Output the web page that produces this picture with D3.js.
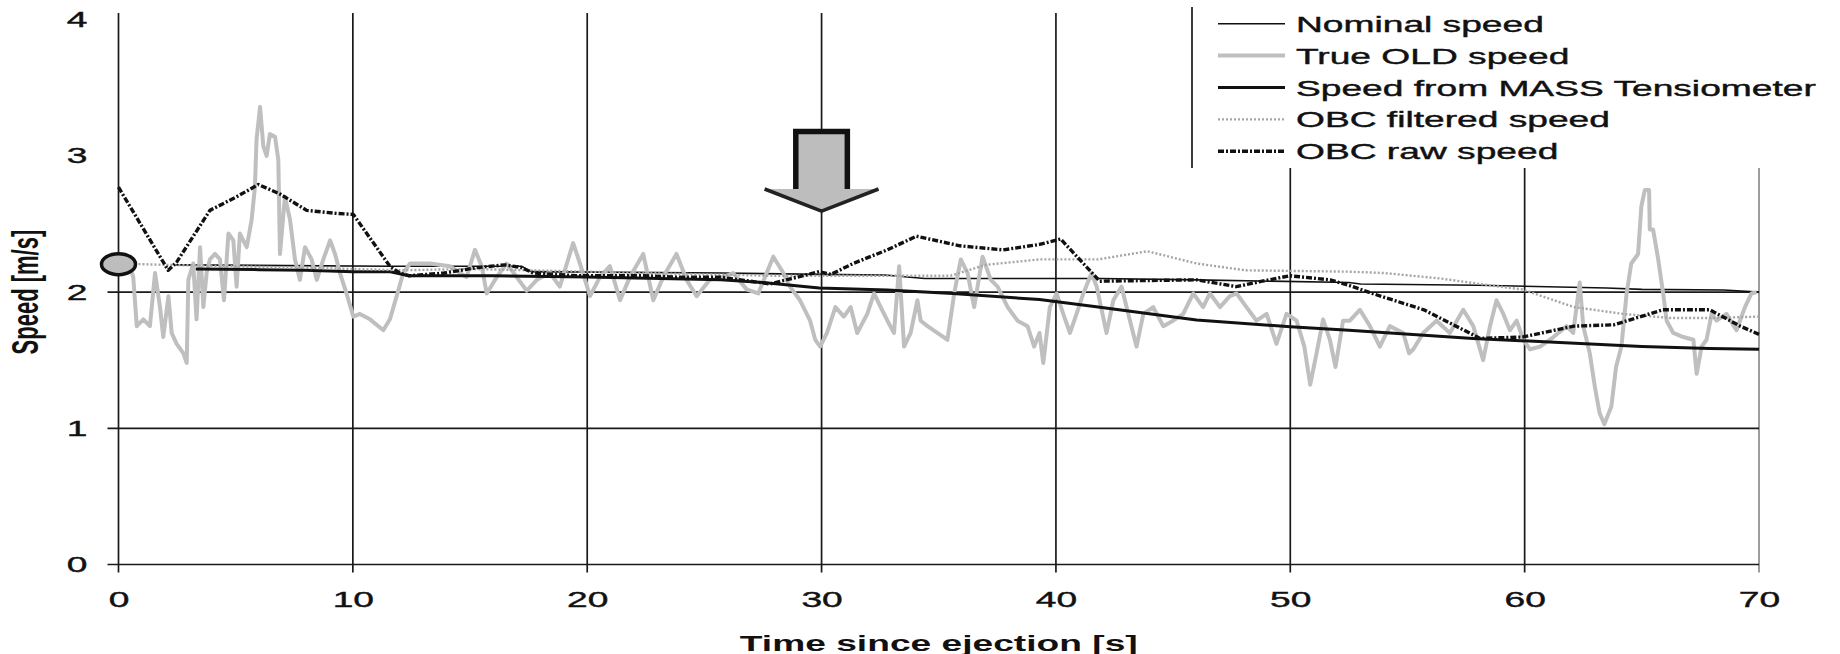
<!DOCTYPE html>
<html><head><meta charset="utf-8">
<script src="https://cdn.jsdelivr.net/npm/d3@7"></script>
<style>html,body{margin:0;padding:0;background:#fff;} svg{display:block;}</style>
</head><body>
<svg id="chart" width="1840" height="654"></svg>
<script>
// ---------- data ----------
const xTickValues = [0, 10, 20, 30, 40, 50, 60, 70];
const yTickValues = [0, 1, 2, 3, 4];
const yGridValues = [0, 1, 2];
const seriesNames = ["Nominal speed", "True OLD speed", "Speed from MASS Tensiometer", "OBC filtered speed", "OBC raw speed"];
const xTitle = "Time since ejection [s]";
const yTitle = "Speed [m/s]";

const nominalTime  = [2.4, 11.6, 17.2, 17.6, 25.7, 29.9, 32.7, 34.4, 39.3, 41.9, 46, 52.5, 53, 58, 63.5, 65, 68.5, 70];
const nominalSpeed = [2.20, 2.19, 2.19, 2.15, 2.14, 2.13, 2.125, 2.10, 2.10, 2.10, 2.09, 2.07, 2.06, 2.05, 2.03, 2.02, 2.015, 2.0];

const oldTime = [0.5,0.63,0.78,1.06,1.34,1.56,1.77,1.91,2.13,2.27,2.48,2.77,2.91,2.98,3.19,3.33,3.48,3.62,3.76,3.90,4.12,4.33,4.50,4.69,4.90,5.04,5.18,5.47,5.68,5.82,5.89,6.04,6.18,6.32,6.46,6.68,6.82,6.89,7.10,7.32,7.53,7.74,7.96,8.24,8.46,8.74,9.03,9.24,9.45,9.73,10.02,10.30,10.73,11.30,11.58,11.87,12.15,12.44,13.29,14.14,14.85,15.21,15.50,15.71,16.14,16.56,16.99,17.42,17.85,18.41,18.83,19.40,19.69,20.12,20.54,20.97,21.40,21.82,22.39,22.82,23.24,23.81,24.24,24.67,25.23,25.80,26.23,26.80,27.30,27.94,28.37,28.65,29.08,29.51,29.73,29.94,30.23,30.59,30.95,31.24,31.52,31.95,32.24,32.52,32.81,33.09,33.31,33.52,33.80,34.09,34.23,34.52,34.94,35.37,35.66,35.94,36.23,36.51,36.87,37.22,37.51,37.94,38.36,38.79,39.07,39.30,39.46,39.74,40.03,40.31,40.60,40.88,41.17,41.52,41.74,42.16,42.45,42.80,43.16,43.44,43.73,44.15,44.58,45.00,45.43,45.86,46.28,46.57,47.00,47.42,47.71,48.13,48.56,48.99,49.41,49.84,50.27,50.60,50.85,51.12,51.40,51.69,51.93,52.25,52.54,52.97,53.40,53.82,54.25,54.82,55.07,55.25,55.67,56.24,56.81,57.38,57.81,58.23,58.52,58.80,59.09,59.37,59.66,59.94,60.23,60.66,61.23,61.79,62.07,62.35,62.50,62.78,63.00,63.20,63.40,63.70,63.90,64.13,64.35,64.55,64.84,64.98,65.13,65.31,65.34,65.48,65.70,65.91,66.06,66.34,66.77,67.20,67.34,67.55,67.76,67.98,68.19,68.61,69.04,69.40,69.68,69.90];
const oldSpeed = [2.18,2.11,1.75,1.80,1.75,2.14,1.89,1.67,1.97,1.70,1.62,1.55,1.48,2.09,2.21,1.80,2.33,1.89,2.14,2.24,2.28,2.24,1.94,2.43,2.38,2.04,2.43,2.33,2.53,2.77,3.12,3.36,3.07,3.00,3.16,3.14,2.97,2.28,2.70,2.53,2.24,2.09,2.33,2.24,2.09,2.24,2.38,2.28,2.14,1.99,1.82,1.84,1.80,1.72,1.80,1.97,2.14,2.21,2.21,2.19,2.11,2.31,2.19,1.99,2.11,2.21,2.11,2.01,2.09,2.14,2.04,2.36,2.21,1.97,2.11,2.19,1.94,2.11,2.28,1.94,2.11,2.28,2.09,1.97,2.09,2.11,2.14,2.02,1.99,2.26,2.14,2.04,1.94,1.79,1.65,1.60,1.70,1.89,1.82,1.89,1.70,1.84,1.99,1.89,1.79,1.70,2.19,1.60,1.70,1.94,1.79,1.75,1.70,1.65,1.99,2.24,2.14,1.89,2.26,2.09,2.04,1.89,1.79,1.75,1.60,1.70,1.48,1.89,1.99,1.84,1.70,1.84,1.99,2.14,2.04,1.70,1.94,2.04,1.79,1.60,1.84,1.89,1.75,1.79,1.84,1.99,1.89,1.99,1.89,1.97,1.99,1.89,1.79,1.84,1.62,1.84,1.79,1.60,1.32,1.55,1.80,1.65,1.45,1.79,1.79,1.87,1.75,1.60,1.75,1.70,1.55,1.58,1.70,1.79,1.70,1.87,1.75,1.50,1.75,1.94,1.84,1.72,1.79,1.65,1.58,1.60,1.67,1.75,1.70,2.07,1.75,1.55,1.30,1.11,1.03,1.16,1.45,1.60,1.99,2.21,2.28,2.63,2.75,2.75,2.46,2.46,2.24,1.99,1.79,1.70,1.67,1.65,1.40,1.60,1.65,1.84,1.79,1.84,1.72,1.89,1.99,2.00];

const massTime  = [3.3, 6, 8, 10, 11.6, 12.4, 16, 20, 25.7, 27.5, 29.9, 32.8, 35.6, 39.3, 41.8, 46, 50, 52.5, 57.8, 61.5, 65, 67.9, 70];
const massSpeed = [2.17, 2.165, 2.16, 2.15, 2.15, 2.12, 2.12, 2.11, 2.09, 2.07, 2.03, 2.015, 1.99, 1.945, 1.89, 1.795, 1.745, 1.72, 1.66, 1.63, 1.60, 1.585, 1.58];

const filteredTime  = [0, 2, 5, 10, 12, 15, 20, 25, 28, 30, 32.3, 35.5, 37, 39.3, 41.8, 43.9, 46, 48.1, 52.5, 54, 56.4, 58.5, 59.9, 62.1, 64.2, 66.2, 67.9, 70];
const filteredSpeed = [2.21, 2.20, 2.19, 2.17, 2.16, 2.17, 2.15, 2.13, 2.12, 2.12, 2.12, 2.12, 2.20, 2.24, 2.24, 2.30, 2.21, 2.16, 2.15, 2.14, 2.10, 2.05, 2.02, 1.89, 1.84, 1.81, 1.81, 1.82];

const rawTime  = [0, 2.12, 2.48, 3.9, 5.04, 5.97, 6.89, 8.03, 9.16, 10.02, 11.58, 12.0, 12.4, 13.9, 15.3, 16.5, 17.2, 17.7, 19.6, 22.4, 23.8, 25.66, 27.8, 29.9, 30.4, 31.35, 32.8, 34.05, 35.9, 37.75, 39.3, 40.2, 41.87, 46.0, 47.7, 48.8, 49.98, 51.7, 52.5, 53.5, 55.7, 58.1, 59.9, 62.1, 63.8, 65.9, 67.9, 69.2, 70];
const rawSpeed = [2.77, 2.16, 2.22, 2.60, 2.70, 2.79, 2.72, 2.60, 2.58, 2.57, 2.19, 2.14, 2.12, 2.14, 2.18, 2.20, 2.18, 2.14, 2.12, 2.12, 2.11, 2.11, 2.06, 2.15, 2.13, 2.21, 2.31, 2.41, 2.34, 2.31, 2.35, 2.39, 2.08, 2.09, 2.04, 2.08, 2.12, 2.09, 2.05, 1.99, 1.87, 1.66, 1.67, 1.75, 1.76, 1.87, 1.87, 1.75, 1.69];

// annotations (data units)
const startMarker = {t: 0, v: 2.205};
const arrowAt = {t: 30, tip: 2.595, head: 2.757, top: 3.18, shaftHalf: 1.1, headHalf: 2.43};

// ---------- drawing ----------
const svg = d3.select("#chart");
const X0 = 118.5, X1 = 1759, Y0 = 564.5, Y4 = 19.7;
const x = d3.scaleLinear().domain([0, 70]).range([X0, X1]);
const y = d3.scaleLinear().domain([0, 4]).range([Y0, Y4]);
const STRETCH = 1.69;
const FONT = "'Liberation Sans', Arial, sans-serif";

svg.append("rect").attr("width", 1840).attr("height", 654).attr("fill", "#fff");

// vertical gridlines (incl. y axis at 0)
svg.append("g").selectAll("line").data(xTickValues).join("line")
  .attr("x1", d => x(d)).attr("x2", d => x(d))
  .attr("y1", y(4.05)).attr("y2", Y0 + 8)
  .attr("stroke", d => d === 70 ? "#8c8c8c" : "#1a1a1a")
  .attr("stroke-width", 1.7);

// horizontal gridlines
svg.append("g").selectAll("line").data(yGridValues).join("line")
  .attr("x1", X0 - 11).attr("x2", X1)
  .attr("y1", d => y(d)).attr("y2", d => y(d))
  .attr("stroke", "#1a1a1a").attr("stroke-width", 1.7);

// x axis labels
const xAxis = svg.append("g").attr("transform", `translate(0,${Y0})`)
  .call(d3.axisBottom(x).tickValues(xTickValues).tickSize(0).tickPadding(27).tickFormat(d3.format("d")));
xAxis.select(".domain").remove();
xAxis.selectAll("text").attr("font-family", FONT).attr("font-size", 22).attr("fill", "#111")
  .attr("stroke", "#111").attr("stroke-width", 0.4)
  .attr("transform", `scale(${STRETCH},1)`);

// y axis labels
const yAxis = svg.append("g").attr("transform", `translate(${X0},0)`)
  .call(d3.axisLeft(y).tickValues(yTickValues).tickSize(0).tickFormat(d3.format("d")));
yAxis.select(".domain").remove();
yAxis.selectAll("text").attr("x", 0).attr("font-family", FONT).attr("font-size", 22).attr("fill", "#111")
  .attr("stroke", "#111").attr("stroke-width", 0.4)
  .attr("transform", `translate(-31,0) scale(${STRETCH},1)`);

// axis titles
svg.append("text").text(xTitle)
  .attr("transform", `translate(${(X0 + X1) / 2},651) scale(${STRETCH},1)`)
  .attr("text-anchor", "middle").attr("font-family", FONT).attr("font-weight", "bold")
  .attr("font-size", 22).attr("fill", "#111");
svg.append("text").text(yTitle)
  .attr("transform", `translate(38,${y(2)}) scale(${STRETCH},1) rotate(-90)`)
  .attr("text-anchor", "middle").attr("font-family", FONT).attr("font-weight", "bold")
  .attr("font-size", 22).attr("fill", "#111");

// series
const styles = [
  {stroke: "#111", width: 1.6, dash: null},
  {stroke: "#bfbfbf", width: 4, dash: null},
  {stroke: "#111", width: 3, dash: null},
  {stroke: "#a5a5a5", width: 2.4, dash: "2,2"},
  {stroke: "#111", width: 3.4, dash: "6,2,2,2"}
];
const series = [
  d3.zip(nominalTime, nominalSpeed),
  d3.zip(oldTime, oldSpeed),
  d3.zip(massTime, massSpeed),
  d3.zip(filteredTime, filteredSpeed),
  d3.zip(rawTime, rawSpeed)
];
const line = d3.line().x(d => x(d[0])).y(d => y(d[1]));
svg.append("g").selectAll("path").data(series).join("path")
  .attr("d", line).attr("fill", "none")
  .attr("stroke", (d, i) => styles[i].stroke)
  .attr("stroke-width", (d, i) => styles[i].width)
  .attr("stroke-dasharray", (d, i) => styles[i].dash)
  .attr("stroke-linejoin", "round");

// start marker
svg.append("ellipse").attr("cx", x(startMarker.t)).attr("cy", y(startMarker.v))
  .attr("rx", 17).attr("ry", 10.5).attr("fill", "#bdbdbd").attr("stroke", "#111").attr("stroke-width", 3.5);

// arrow
const a = arrowAt;
const L = x(a.t - a.shaftHalf), R = x(a.t + a.shaftHalf);
const HL = x(a.t - a.headHalf), HR = x(a.t + a.headHalf);
const T = y(a.top), H = y(a.head), P = y(a.tip), C = x(a.t);
svg.append("path").attr("d", `M${L},${T}L${R},${T}L${R},${H}L${HR},${H}L${C},${P}L${HL},${H}L${L},${H}Z`)
  .attr("fill", "#bdbdbd").attr("stroke", "none");
svg.append("path").attr("d", `M${L},${H}L${L},${T}L${R},${T}L${R},${H}`)
  .attr("fill", "none").attr("stroke", "#111").attr("stroke-width", 5.5);
svg.append("path").attr("d", `M${HL},${H}L${C},${P}L${HR},${H}`)
  .attr("fill", "none").attr("stroke", "#222").attr("stroke-width", 3.5).attr("stroke-linejoin", "miter");

// legend
const lg = svg.append("g");
lg.append("rect").attr("x", 1192).attr("y", 0).attr("width", 648).attr("height", 168).attr("fill", "#fff");
lg.append("line").attr("x1", 1192).attr("x2", 1192).attr("y1", 7).attr("y2", 168)
  .attr("stroke", "#1a1a1a").attr("stroke-width", 1.7);
const items = lg.selectAll("g.item").data(seriesNames).join("g").attr("class", "item")
  .attr("transform", (d, i) => `translate(0,${31.7 + 31.9 * i})`);
items.append("line").attr("x1", 1218).attr("x2", 1285).attr("y1", -8).attr("y2", -8)
  .attr("stroke", (d, i) => styles[i].stroke)
  .attr("stroke-width", (d, i) => styles[i].width)
  .attr("stroke-dasharray", (d, i) => styles[i].dash);
items.append("text").text(d => d)
  .attr("transform", `translate(1296,0) scale(${STRETCH},1)`)
  .attr("font-family", FONT).attr("font-size", 22).attr("fill", "#111")
  .attr("stroke", "#111").attr("stroke-width", 0.4);
</script>
</body></html>
